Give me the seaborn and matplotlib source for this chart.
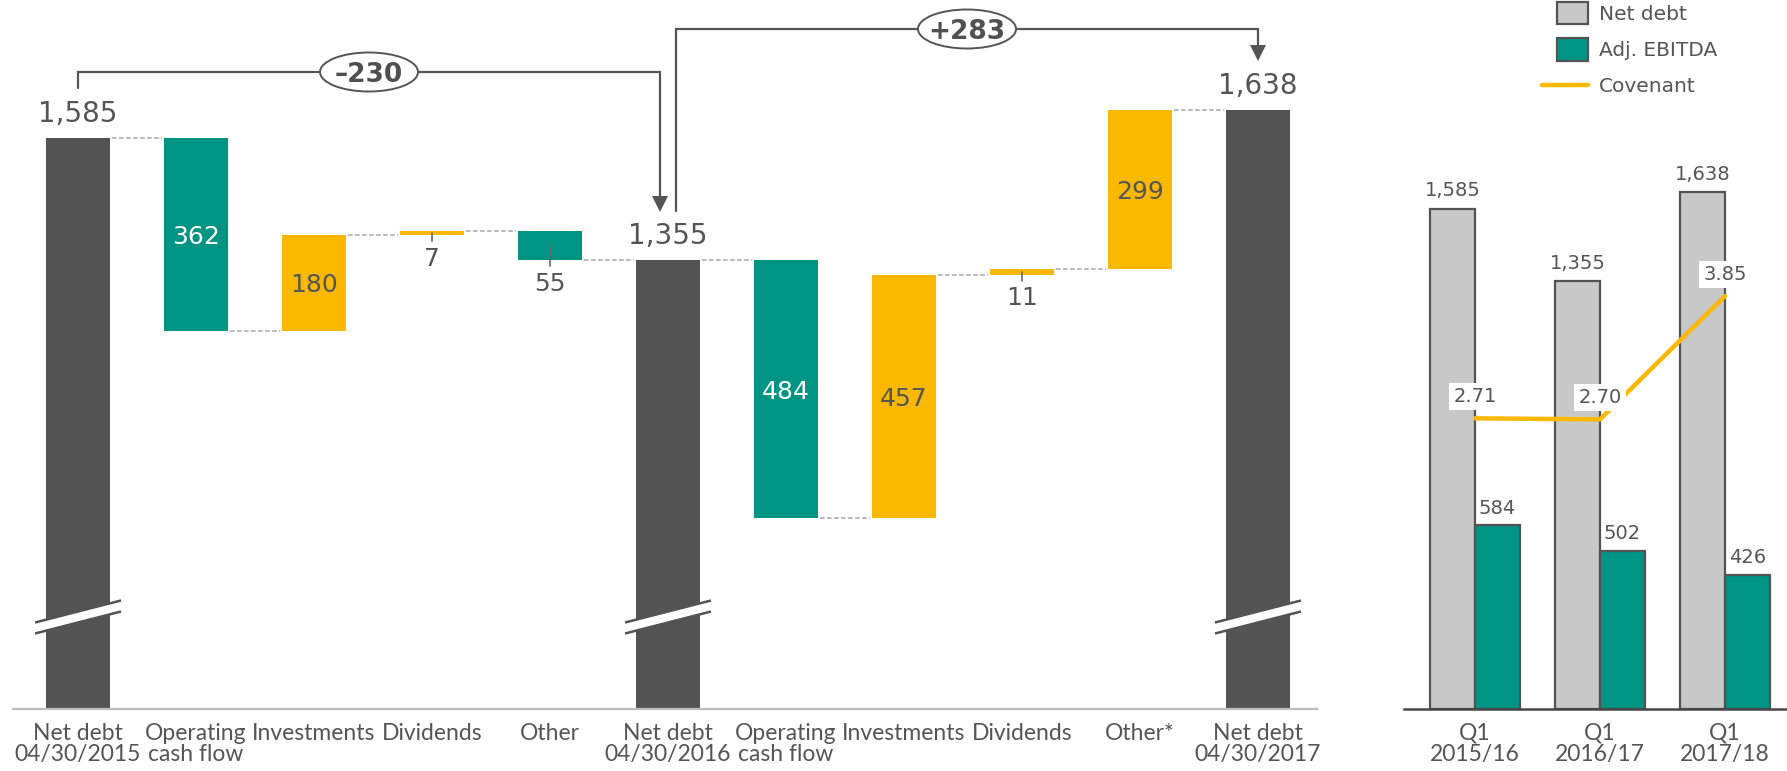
import numpy as np
import pandas as pd
import matplotlib
matplotlib.use("Agg")
import matplotlib.pyplot as plt
import seaborn as sns
from matplotlib.patches import Ellipse, Rectangle, Polygon
from matplotlib.lines import Line2D
from matplotlib.transforms import Affine2D

# ---------------- data ----------------
wf_labels = ["Net debt\n04/30/2015", "Operating\ncash flow", "Investments", "Dividends", "Other",
             "Net debt\n04/30/2016", "Operating\ncash flow", "Investments", "Dividends", "Other*",
             "Net debt\n04/30/2017"]
wf_kind = ["total", "dec", "inc", "inc", "dec", "total", "dec", "inc", "inc", "inc", "total"]
wf_values = [1585, 362, 180, 7, 55, 1355, 484, 457, 11, 299, 1638]
bracket_labels = ["\u2013230", "+283"]

quarters = ["Q1\n2015/16", "Q1\n2016/17", "Q1\n2017/18"]
net_debt = [1585, 1355, 1638]
adj_ebitda = [584, 502, 426]
covenant = [2.71, 2.70, 3.85]
legend_labels = ["Net debt", "Adj. EBITDA", "Covenant"]

# ---------------- style ----------------
sns.set_theme(style="white")
plt.rcParams["font.family"] = ["DejaVu Sans"]
TICKFONT = ["Lato", "DejaVu Sans"]
TXT = "#555555"
DARK = "#535353"
TEAL = "#009485"
YEL = "#FAB800"
LGRAY = "#C8C8C8"
EDGE = "#535353"

W, H = 1787, 771
fig = plt.figure(figsize=(W / 100, H / 100), dpi=100)
base_px = 709
ax = fig.add_axes([13 / W, (H - base_px) / H, (1317 - 13) / W, base_px / H])
axr = fig.add_axes([1404 / W, (H - base_px) / H, (W - 1404) / W, base_px / H])

# pixel transform with y measured from the top
TOP = Affine2D().scale(1, -1).translate(0, H)

# ---------------- waterfall ----------------
n = len(wf_values)
bottoms, tops, colors, levels = [], [], [], []
running = 0
for kind, v in zip(wf_kind, wf_values):
    if kind == "total":
        b, t, c = 0, v, DARK
        running = v
    elif kind == "dec":
        b, t, c = running - v, running, TEAL
        running -= v
    else:
        b, t, c = running, running + v, YEL
        running += v
    bottoms.append(b); tops.append(t); colors.append(c); levels.append(running)
bottoms = np.array(bottoms); tops = np.array(tops)
x = np.arange(n)
bw = 0.542
ax.bar(x, tops - bottoms, bottom=bottoms, width=bw, color=colors, linewidth=0, zorder=2)
ax.set_xlim(-0.551, 10.5)
ax.set_ylim(512, 1844)
ppu = base_px / (1844 - 512)   # pixels per value unit
ppx = 1304 / (10.5 + 0.551)    # pixels per category

# connectors
for i in range(n - 1):
    ax.plot([i + bw / 2 + 0.02, i + 1 - bw / 2 - 0.02], [levels[i], levels[i]],
            ls=(0, (3, 1.6)), color="#A8A8A8", lw=1.1, zorder=1)

# labels
for i, (kind, v, b, t) in enumerate(zip(wf_kind, wf_values, bottoms, tops)):
    hpx = (t - b) * ppu
    if kind == "total":
        ax.annotate(f"{v:,}", (i, t), xytext=(0, 11.5), textcoords="offset points",
                    ha="center", va="baseline", fontsize=20, color=TXT)
    elif hpx > 40:
        ax.text(i, (b + t) / 2, f"{v}", ha="center", va="center_baseline", fontsize=18,
                color="white" if kind == "dec" else TXT, zorder=3)
    else:
        ax.plot([i, i], [(b + t) / 2, b - 6 / ppu], color="#666666", lw=1.2, zorder=3)
        ax.annotate(f"{v}", (i, b), xytext=(0, -8.5), textcoords="offset points",
                    ha="center", va="top", fontsize=18, color=TXT)

# axis break marks on total bars
yb = 1844 - 617 / ppu
slope = (21.5 / ppu) / (84 / ppx)
gap = 11 / ppu
ext = bw / 2 + 11 / ppx
for i, kind in enumerate(wf_kind):
    if kind != "total":
        continue
    xl, xr = i - ext, i + ext
    lo = lambda xx: yb - gap / 2 + slope * (xx - i)
    hi = lambda xx: yb + gap / 2 + slope * (xx - i)
    ax.add_patch(Polygon([[xl, lo(xl)], [xr, lo(xr)], [xr, hi(xr)], [xl, hi(xl)]],
                         closed=True, fc="white", ec="none", zorder=4))
    ax.plot([xl, xr], [lo(xl), lo(xr)], color=DARK, lw=1.8, zorder=5, solid_capstyle="butt")
    ax.plot([xl, xr], [hi(xl), hi(xr)], color=DARK, lw=1.8, zorder=5, solid_capstyle="butt")

for s in ["top", "left", "right"]:
    ax.spines[s].set_visible(False)
ax.spines["bottom"].set_color("#BDBDBD")
ax.spines["bottom"].set_linewidth(1.6)
ax.set_yticks([])
ax.set_xticks(x)
ax.set_xticklabels(wf_labels, fontsize=16.5, color=TXT, linespacing=1.0, family=TICKFONT)
ax.tick_params(axis="x", length=0, pad=10)
ax.set_facecolor("none")

# brackets
def xpx(a, xv):
    return a.transData.transform((xv, a.get_ylim()[0]))[0]

x0, x5, x10 = xpx(ax, 0), xpx(ax, 5), xpx(ax, 10)
BR = "#555555"
paths = [
    ([x0, x0, x5 - 8, x5 - 8], [88, 72, 72, 197], (x5 - 8, 212)),
    ([x5 + 8, x5 + 8, x10, x10], [211, 29, 29, 45], (x10, 61)),
]
for (xs, ys, tip), lab in zip(paths, bracket_labels):
    fig.add_artist(Line2D(xs, ys, color=BR, lw=1.6, transform=TOP, solid_joinstyle="miter"))
    tx, ty = tip
    fig.add_artist(Polygon([[tx - 8, ty - 16], [tx + 8, ty - 16], [tx, ty]], closed=True,
                           fc=BR, ec="none", transform=TOP))
    cx = (xs[0] + xs[-1]) / 2
    cy = ys[1]
    fig.add_artist(Ellipse((cx, cy), 98, 39, fc="white", ec=BR, lw=1.4, transform=TOP, zorder=5))
    fig.text(cx / W, 1 - cy / H, lab, ha="center", va="center_baseline", fontsize=19,
             fontweight="bold", color="#505050", zorder=6)

# ---------------- right panel ----------------
df = pd.DataFrame({
    "Quarter": quarters * 2,
    "Metric": [legend_labels[0]] * 3 + [legend_labels[1]] * 3,
    "Value": net_debt + adj_ebitda,
})
sns.barplot(data=df, x="Quarter", y="Value", hue="Metric", palette=[LGRAY, TEAL],
            width=0.72, edgecolor=EDGE, linewidth=1.6, saturation=1, errorbar=None,
            legend=False, ax=axr, zorder=2)
axr.set_xlim(-0.568, 2.496)
axr.set_ylim(0, 2247)
for i, (nd, eb) in enumerate(zip(net_debt, adj_ebitda)):
    axr.annotate(f"{nd:,}", (i - 0.18, nd), xytext=(0, 9), textcoords="offset points",
                 ha="center", va="baseline", fontsize=14, color=TXT)
    axr.annotate(f"{eb:,}", (i + 0.18, eb), xytext=(0, 8), textcoords="offset points",
                 ha="center", va="baseline", fontsize=14, color=TXT)
for s in ["top", "left", "right"]:
    axr.spines[s].set_visible(False)
axr.spines["bottom"].set_color("#474747")
axr.spines["bottom"].set_linewidth(1.8)
axr.set_yticks([])
axr.set_xticks([0, 1, 2])
axr.set_xticklabels(quarters, fontsize=16.5, color=TXT, linespacing=1.0, family=TICKFONT)
axr.tick_params(axis="x", length=0, pad=10)
axr.set_xlabel("")
axr.set_ylabel("")
axr.set_facecolor("none")

ax2 = axr.twinx()
sns.lineplot(x=np.arange(3), y=covenant, ax=ax2, color=YEL, lw=3.2, zorder=2)
ax2.set_ylim(0, 6.61)
ax2.set_xlim(-0.568, 2.496)
for i, c in enumerate(covenant):
    ax2.annotate(f"{c:.2f}", (i, c), xytext=(0, 17), textcoords="offset points",
                 ha="center", va="center_baseline", fontsize=14, color=TXT, zorder=4,
                 bbox=dict(boxstyle="square,pad=0.2", fc="white", ec="none"))
for s in ax2.spines.values():
    s.set_visible(False)
ax2.set_yticks([])
ax2.set_ylabel("")

# ---------------- legend ----------------
fig.add_artist(Rectangle((1557, 2), 31, 22, fc=LGRAY, ec=EDGE, lw=1.6, transform=TOP))
fig.add_artist(Rectangle((1557, 38), 31, 23, fc=TEAL, ec=EDGE, lw=1.6, transform=TOP))
fig.add_artist(Line2D([1542, 1588], [85, 85], color=YEL, lw=3.2, transform=TOP))
for lab, yy in zip(legend_labels, [13, 49, 85]):
    fig.text(1599 / W, 1 - yy / H, lab, ha="left", va="center_baseline", fontsize=14.5, color=TXT)

fig.savefig("out.png", dpi=100)
